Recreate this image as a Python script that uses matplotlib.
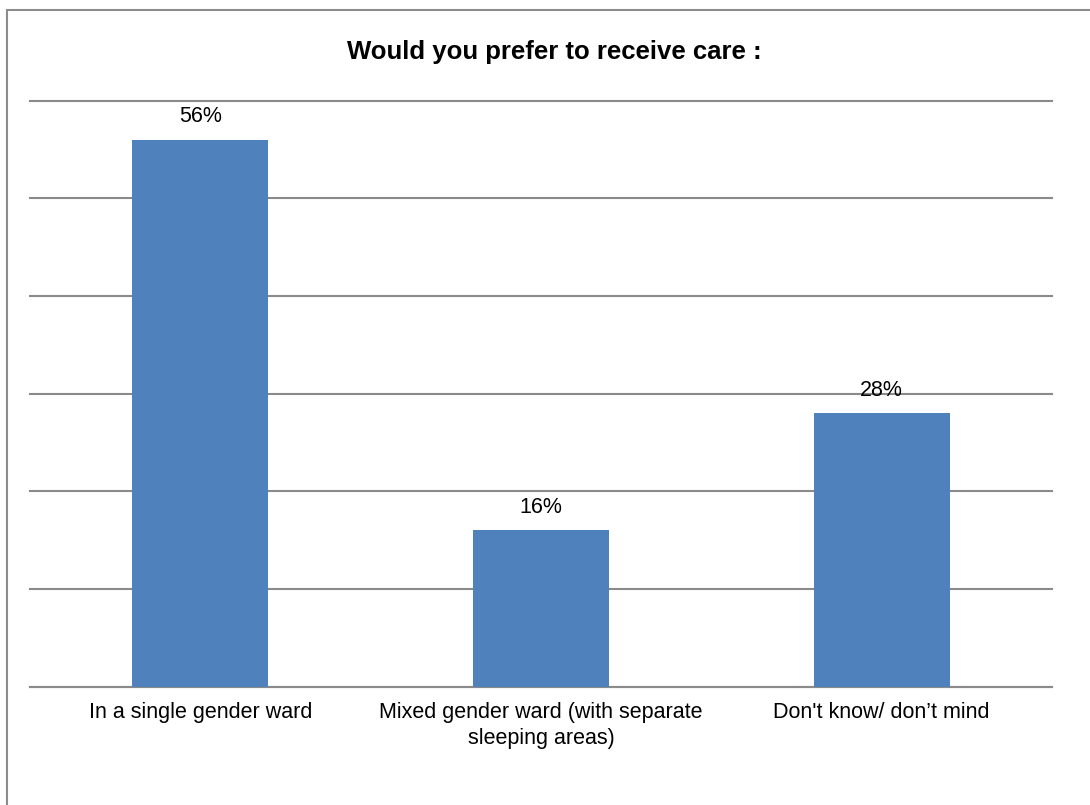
import matplotlib.pyplot as plt
from matplotlib.patches import Rectangle

plt.rcParams['font.family'] = ['Liberation Sans', 'DejaVu Sans']

categories = ["In a single gender ward",
              "Mixed gender ward (with separate\nsleeping areas)",
              "Don't know/ don\u2019t mind"]
values = [56, 16, 28]
labels = ["56%", "16%", "28%"]

fig = plt.figure(figsize=(10.9, 8.05), dpi=100)
ax = fig.add_axes([30/1090, 1-686.7/805, 1022/1090, 586/805])

x = range(len(values))
ax.bar(x, values, width=0.4, color="#4F81BD", zorder=3)
for xi, v, lab in zip(x, values, labels):
    ax.annotate(lab, (xi, v), xytext=(0, 23), textcoords="offset pixels",
                ha="center", va="center", fontsize=15.5, color="black", zorder=4)

ax.set_xlim(-0.5, 2.5)
ax.set_ylim(0, 60)
ax.set_yticks(range(0, 61, 10))
ax.set_yticklabels([])
ax.tick_params(axis="y", length=0)
ax.yaxis.grid(True, color="#8a8a8a", linewidth=1.5, zorder=1)
for gl in ax.get_ygridlines():
    gl.set_clip_on(False)
ax.set_xticks(list(x))
ax.set_xticklabels(categories, fontsize=15.5, linespacing=1.3)
ax.tick_params(axis="x", length=0, pad=11)
for s in ["left", "right", "top"]:
    ax.spines[s].set_visible(False)
ax.spines["bottom"].set_color("#8a8a8a")
ax.spines["bottom"].set_linewidth(1.5)

fig.text(554/1090, 1-52/805, "Would you prefer to receive care :",
         ha="center", va="center", fontsize=18.5, fontweight="bold")

# chart frame, running off the right and bottom edges
fig.patches.append(Rectangle((7/1090, -0.1), 1.2, 1.1 - 10/805,
                             transform=fig.transFigure, fill=False,
                             edgecolor="#8c8c8c", linewidth=1.5))

fig.savefig("out.png", dpi=100)
